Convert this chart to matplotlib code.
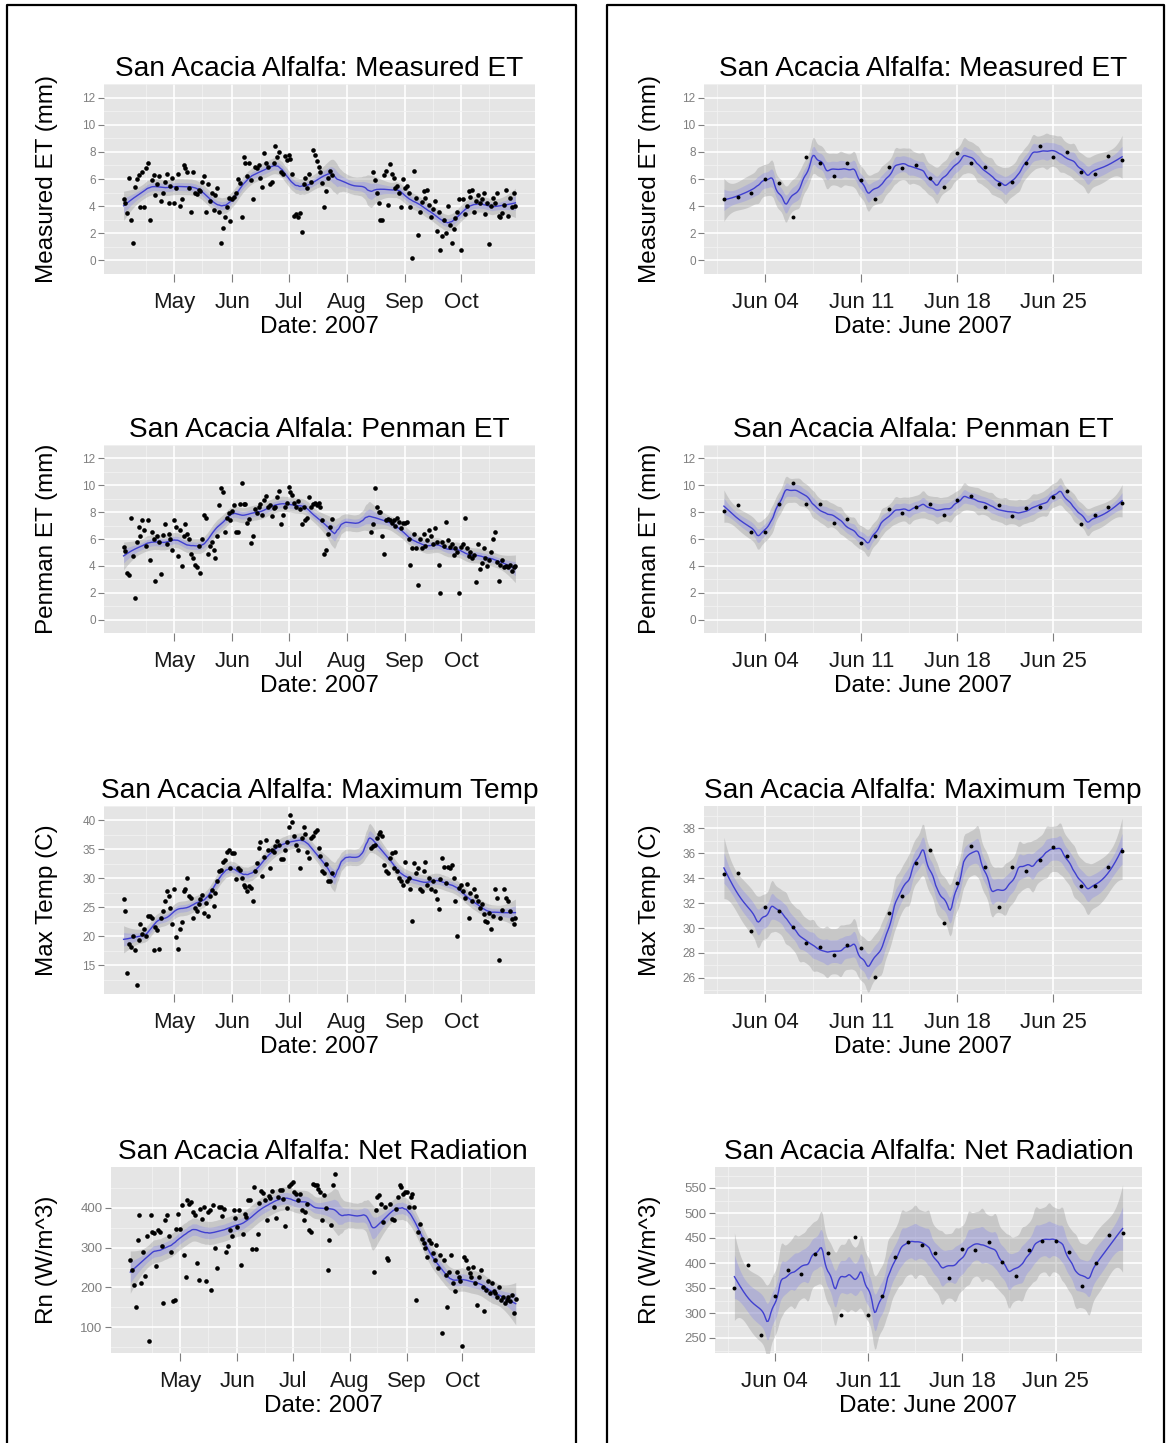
import numpy as np
import matplotlib
matplotlib.use("Agg")
import matplotlib.pyplot as plt
import matplotlib.dates as mdates
import matplotlib.transforms as mtransforms
from matplotlib.lines import Line2D

plt.rcParams['font.family'] = ['Liberation Sans', 'DejaVu Sans']

nan = np.nan

# ---- daily values, 4 Apr - 30 Oct 2007 (gap in the logger record late Jul / early Aug)
et_apr = [4.5, 4.2, 3.5, 6.1, 3.0, 1.3, 5.4, 6.0, 6.3, 3.9, 6.5, 3.9, 6.8, 7.2, 3.0, 5.9, 6.3, 4.8, 5.6, 6.2,
          4.4, 5.0, 5.8, 6.4, 4.2, 5.5, 6.1]
et_may = [4.2, 5.3, 6.4, 4.0, 4.5, 7.0, 6.8, 6.5, 5.3, 3.6, 6.5, 5.0, 4.9, 5.2, 5.1, 5.8, 6.2, 3.6, 5.6, 4.4,
          5.0, 3.7, 4.8, 5.3, 3.6, 1.3, 2.4, 3.2, 3.9, 4.6, 2.9]
et_jun = [4.5, 4.7, 5.0, 6.0, 5.7, 3.2, 7.6, 7.2, 6.2, 7.2, 5.9, 4.5, 6.9, 6.8, 7.0, 6.1, 5.4, 7.9, 7.2, 6.9,
          5.6, 5.8, 7.2, 8.4, 7.6, 8.0, 6.5, 6.4, 7.7, 7.4]
et_jul = [7.8, 7.5, 6.4, 3.3, 3.4, 3.2, 3.5, 2.1, 5.6, 6.1, 5.3, 6.4, 5.8, 8.1, 7.8, 7.3, 6.9, 6.5, 5.7, 3.9,
          5.1, 6.1, 6.6, 6.3] + [nan] * 7
et_aug = [nan] * 14 + [6.5, 5.9, 5.0, 4.2, 3.0, 3.0, 6.3, 6.6, 4.1, 7.1, 6.4, 6.1, 5.3, 5.5, 5.0, 3.9, 6.0]
et_sep = [5.3, 5.5, 5.0, 3.9, 0.2, 6.6, 4.6, 1.9, 3.6, 4.3, 5.1, 4.6, 5.2, 4.1, 3.2, 3.8, 4.4, 2.2, 3.6, 0.8,
          1.8, 3.0, 2.0, 4.0, 2.6, 1.3, 2.3, 3.1, 3.6, 4.5]
et_oct = [0.8, 4.5, 3.4, 4.0, 5.1, 4.7, 5.2, 3.6, 4.4, 4.8, 4.2, 4.5, 5.0, 3.4, 4.2, 1.2, 4.0, 4.6, 4.2, 5.0,
          3.3, 3.2, 3.5, 4.1, 5.2, 3.3, 4.6, 3.9, 5.0, 4.0]

pen_apr = [5.4, 5.1, 3.5, 3.3, 7.6, 4.7, 1.6, 5.8, 6.9, 6.2, 7.4, 6.7, 5.5, 7.4, 4.4, 6.5, 6.0, 2.9, 6.2, 5.8,
           3.4, 6.3, 7.1, 5.6, 6.4, 6.0, 5.2]
pen_may = [7.4, 6.9, 4.7, 6.7, 4.0, 6.2, 7.1, 6.4, 6.0, 4.9, 4.6, 4.1, 3.9, 5.5, 3.5, 6.0, 7.8, 7.6, 4.9, 5.5,
           5.8, 5.2, 4.6, 6.2, 8.5, 9.8, 9.5, 6.5, 7.6, 7.9, 7.4]
pen_jun = [8.1, 8.5, 6.5, 6.5, 8.6, 10.2, 8.6, 8.6, 7.2, 7.5, 5.7, 6.2, 8.2, 7.9, 8.4, 8.6, 7.8, 8.9, 9.2, 8.4,
           8.5, 7.7, 8.3, 8.4, 9.1, 9.6, 7.1, 7.8, 8.4, 8.7]
pen_jul = [9.9, 9.5, 9.3, 8.7, 8.4, 8.8, 8.2, 7.1, 8.4, 7.4, 7.6, 9.1, 8.4, 8.6, 8.7, 8.5, 8.7, 8.4, 7.4, 4.9,
           5.2, 6.4, 6.9, 7.5] + [nan] * 7
pen_aug = [nan] * 13 + [6.5, 7.1, 9.8, 8.4, 8.0, 8.0, 6.2, 4.9, 7.4, 7.5, 7.4, 7.2, 7.4, 7.0, 7.6, 7.3, 6.8, 7.2]
pen_sep = [7.2, 7.3, 6.0, 4.1, 5.3, 6.4, 5.3, 2.6, 6.0, 5.3, 6.4, 5.5, 5.9, 6.7, 6.2, 5.6, 6.8, 5.8, 4.1, 2.0,
           5.8, 5.5, 7.3, 5.9, 5.4, 5.6, 4.8, 5.3, 5.0, 2.0]
pen_oct = [5.4, 5.6, 7.6, 5.3, 4.7, 5.0, 4.6, 4.8, 2.8, 5.6, 3.8, 4.2, 5.3, 4.6, 4.0, 4.4, 5.0, 6.0, 6.5, 4.3,
           2.9, 4.1, 4.4, 3.9, 4.0, 3.9, 4.1, 3.6, 3.9, 4.0]

tmax_apr = [26.4, 24.4, 13.6, 18.7, 18.1, 20.1, 17.6, 11.6, 19.3, 22.1, 20.4, 21.3, 20.1, 23.5, 23.5, 23.2,
            17.6, 21.5, 21.0, 17.8, 23.2, 24.4, 26.1, 27.8, 26.9, 24.9, 22.1]
tmax_may = [28.1, 19.8, 17.8, 21.3, 22.4, 27.8, 28.1, 30.1, 26.9, 26.6, 23.2, 24.9, 24.4, 25.5, 26.4, 27.2,
            24.0, 25.8, 23.5, 26.9, 28.0, 25.2, 27.5, 29.5, 31.2, 31.5, 32.9, 33.2, 34.6, 34.9, 31.8]
tmax_jun = [34.3, 34.4, 29.8, 31.7, 31.4, 30.1, 28.8, 28.5, 27.8, 28.6, 28.4, 26.1, 31.2, 32.6, 35.2, 36.3,
            30.4, 33.6, 36.6, 34.9, 31.7, 34.9, 34.6, 35.5, 36.5, 35.8, 33.4, 33.4, 34.9, 36.2]
tmax_jul = [38.9, 40.9, 39.7, 37.4, 35.7, 34.9, 31.8, 36.9, 38.9, 37.7, 34.6, 33.5, 36.9, 37.4, 38.0, 38.3,
            35.2, 33.8, 31.2, 30.9, 32.5, 29.5, 29.5, 31.0] + [nan] * 7
tmax_aug = [nan] * 13 + [35.2, 35.5, 35.7, 36.9, 37.7, 38.0, 37.4, 32.3, 31.2, 30.9, 33.5, 34.3, 31.8, 34.6,
                         31.2, 30.1, 29.5, 28.9]
tmax_sep = [32.9, 29.5, 30.1, 28.1, 22.7, 32.6, 30.9, 31.8, 28.1, 27.8, 31.2, 32.9, 28.9, 30.1, 28.1, 29.5,
            27.8, 26.4, 24.7, 29.8, 33.5, 32.0, 29.2, 32.0, 31.8, 32.3, 30.1, 26.1, 20.1, 28.4]
tmax_oct = [28.9, 27.8, 26.6, 29.0, 23.2, 27.5, 26.1, 28.1, 26.9, 26.1, 24.9, 25.5, 23.8, 22.7, 22.4, 24.0,
            21.3, 23.5, 28.1, 26.6, 15.9, 23.2, 24.5, 28.1, 26.6, 26.1, 24.4, 23.0, 22.1, 23.2]

rn_apr = [269, 244, 207, 152, 319, 382, 211, 290, 230, 330, 65, 382, 340, 336, 253, 344, 340, 305, 161, 369,
          382, 330, 290, 165, 169, 348, 385]
rn_may = [348, 407, 282, 227, 419, 411, 415, 390, 382, 261, 219, 398, 373, 402, 215, 390, 394, 194, 407, 300,
          248, 402, 402, 380, 398, 290, 305, 345, 330, 395, 375]
rn_jun = [351, 396, 256, 334, 386, 378, 419, 421, 296, 452, 296, 335, 412, 442, 437, 421, 370, 429, 426, 442,
          403, 375, 427, 444, 445, 422, 354, 401, 456, 460]
rn_jul = [465, 440, 436, 419, 436, 394, 369, 390, 410, 344, 340, 461, 457, 457, 448, 440, 369, 432, 400, 244,
          319, 357, 457, 486] + [nan] * 7
rn_aug = [nan] * 13 + [240, 394, 427, 432, 411, 365, 402, 273, 269, 411, 373, 369, 398, 427, 457, 452, 436, 440]
rn_sep = [440, 402, 427, 436, 402, 169, 340, 360, 323, 311, 298, 277, 319, 311, 286, 270, 307, 250, 282, 86,
          269, 232, 152, 240, 282, 210, 190, 240, 225, 215]
rn_oct = [52, 277, 269, 250, 236, 227, 252, 210, 157, 227, 244, 200, 140, 194, 215, 186, 211, 190, 186, 177,
          200, 169, 177, 160, 169, 175, 165, 180, 136, 170]

season_days = np.arange(np.datetime64('2007-04-04'), np.datetime64('2007-10-31'))
june_days = np.arange(np.datetime64('2007-06-01'), np.datetime64('2007-07-01'))

season = {
    'et': et_apr + et_may + et_jun + et_jul + et_aug + et_sep + et_oct,
    'pen': pen_apr + pen_may + pen_jun + pen_jul + pen_aug + pen_sep + pen_oct,
    'tmax': tmax_apr + tmax_may + tmax_jun + tmax_jul + tmax_aug + tmax_sep + tmax_oct,
    'rn': rn_apr + rn_may + rn_jun + rn_jul + rn_aug + rn_sep + rn_oct,
}
june = {'et': et_jun, 'pen': pen_jun, 'tmax': tmax_jun, 'rn': rn_jun}

titles = ['San Acacia Alfalfa: Measured ET', 'San Acacia Alfala: Penman ET',
          'San Acacia Alfalfa: Maximum Temp', 'San Acacia Alfalfa: Net Radiation']
ylabels = ['Measured ET (mm)', 'Penman ET (mm)', 'Max Temp (C)', 'Rn (W/m^3)']
keys = ['et', 'pen', 'tmax', 'rn']

left_yticks = [np.arange(0, 13, 2), np.arange(0, 13, 2), np.arange(15, 41, 5), np.arange(100, 401, 100)]
left_ylim = [(-0.6, 12.85), (-0.6, 12.75), (10.0, 42.0), (35, 503)]
right_yticks = [np.arange(0, 13, 2), np.arange(0, 13, 2), np.arange(26, 39, 2), np.arange(250, 551, 50)]
right_ylim = [(-0.6, 12.85), (-0.6, 12.75), (24.7, 39.8), (220, 592)]


def loess(x, y, span, degree, n_out=300):
    """local polynomial fit with tricube weights, plus pointwise standard error"""
    ok = ~np.isnan(y)
    x, y = x[ok], y[ok]
    n = len(x)
    q = max(int(np.floor(span * n)), degree + 3)

    def hat_row(x0):
        d = np.abs(x - x0)
        h = np.sort(d)[q - 1] * 1.001
        u = d / h
        w = np.where(u < 1, (1 - u ** 3) ** 3, 0.0)
        X = np.column_stack([(x - x0) ** k for k in range(degree + 1)])
        XtW = X.T * w
        return np.linalg.solve(XtW @ X, XtW)[0]

    L = np.array([hat_row(v) for v in x])
    resid = y - L @ y
    sigma = np.sqrt(np.sum(resid ** 2) / (n - np.trace(L)))
    xs = np.linspace(x.min(), x.max(), n_out)
    rows = np.array([hat_row(v) for v in xs])
    return xs, rows @ y, sigma * np.sqrt(np.sum(rows ** 2, axis=1))


W, H = 1167, 1443
fig = plt.figure(figsize=(W / 100, H / 100), dpi=100)

row_top = [84, 445, 806, 1167]
row_h = [190, 188, 188, 186]
left_x0 = [104, 104, 104, 111]
right_x0 = [704, 704, 704, 715]


def panel(x0, x1, top, h):
    return fig.add_axes([x0 / W, 1 - (top + h) / H, (x1 - x0) / W, h / H])


def draw(ax, days, vals, span, degree, yticks, ylim, ysize, psize):
    x = mdates.date2num(days.astype('datetime64[D]').astype(object))
    y = np.array(vals, dtype=float)
    xs, fit, se = loess(x, y, span, degree)
    ax.fill_between(xs, fit - 2.0 * se, fit + 2.0 * se, color='#8C8C8C', alpha=0.33, lw=0, zorder=2)
    ax.fill_between(xs, fit - se, fit + se, color='#8080F0', alpha=0.3, lw=0, zorder=2)
    ax.plot(xs, fit, color='#4040D0', lw=1.0, zorder=3)
    ax.scatter(x, y, s=psize, color='black', lw=0, zorder=4)

    pad = 0.05 * (x.max() - x.min())
    ax.set_xlim(x.min() - pad, x.max() + pad)
    ax.set_ylim(*ylim)
    ax.set_yticks(yticks)
    step = yticks[1] - yticks[0]
    ax.set_yticks(np.append(yticks - step / 2, yticks[-1] + step / 2), minor=True)

    ax.set_facecolor('#E5E5E5')
    for s in ax.spines.values():
        s.set_visible(False)
    ax.set_axisbelow(True)
    ax.grid(which='major', color='white', lw=1.2)
    ax.grid(which='minor', color='#F2F2F2', lw=0.6)
    ax.tick_params(axis='y', which='major', length=4, width=0.8, color='#7F7F7F',
                   labelcolor='#7F7F7F', labelsize=ysize, pad=2)
    ax.tick_params(axis='x', which='major', length=6, width=0.8, color='#7F7F7F',
                   labelcolor='#1A1A1A', labelsize=16, pad=7)
    ax.tick_params(which='minor', length=0)


def label(ax, title, xlabel, ylabel, ylabel_x):
    ax.set_title(title, fontsize=20.2, pad=6)
    ax.set_xlabel(xlabel, fontsize=17.5, labelpad=2)
    ax.set_ylabel(ylabel, fontsize=17.5)
    ax.yaxis.label.set_va('center')
    ax.yaxis.set_label_coords(ylabel_x / W, 0.5,
                              transform=mtransforms.blended_transform_factory(fig.transFigure, ax.transAxes))


for i, key in enumerate(keys):
    ysize = 9.5 if key == 'rn' else 8.5

    # whole season
    ax = panel(left_x0[i], 535, row_top[i], row_h[i])
    draw(ax, season_days, season[key], 0.14, 1, left_yticks[i], left_ylim[i], ysize, 11)
    months = np.arange(np.datetime64('2007-05'), np.datetime64('2007-11'))
    ax.set_xticks(mdates.date2num(months.astype('datetime64[D]').astype(object)))
    mids = np.arange(np.datetime64('2007-04'), np.datetime64('2007-11')).astype('datetime64[D]') + 15
    ax.set_xticks(mdates.date2num(mids.astype(object)), minor=True)
    ax.xaxis.set_major_formatter(mdates.DateFormatter('%b'))
    label(ax, titles[i], 'Date: 2007', ylabels[i], 47)

    # June close-up
    ax = panel(right_x0[i], 1142, row_top[i], row_h[i])
    draw(ax, june_days, june[key], 0.2, 2, right_yticks[i], right_ylim[i], ysize, 8)
    weeks = np.arange(np.datetime64('2007-06-04'), np.datetime64('2007-07-01'), 7)
    ax.set_xticks(mdates.date2num(weeks.astype(object)))
    ax.set_xticks(mdates.date2num(weeks.astype(object)) - 3.5, minor=True)
    ax.xaxis.set_major_formatter(mdates.DateFormatter('%b %d'))
    label(ax, titles[i], 'Date: June 2007', ylabels[i], 650)

# frames round the two columns
for xa, xb in [(7, 576), (607, 1164)]:
    fig.add_artist(Line2D(np.array([xa, xa, xb, xb]) / W, 1 - np.array([H, 5, 5, H]) / H,
                          transform=fig.transFigure, color='black', lw=1.6))

fig.savefig('out.png', dpi=100, facecolor='white')
